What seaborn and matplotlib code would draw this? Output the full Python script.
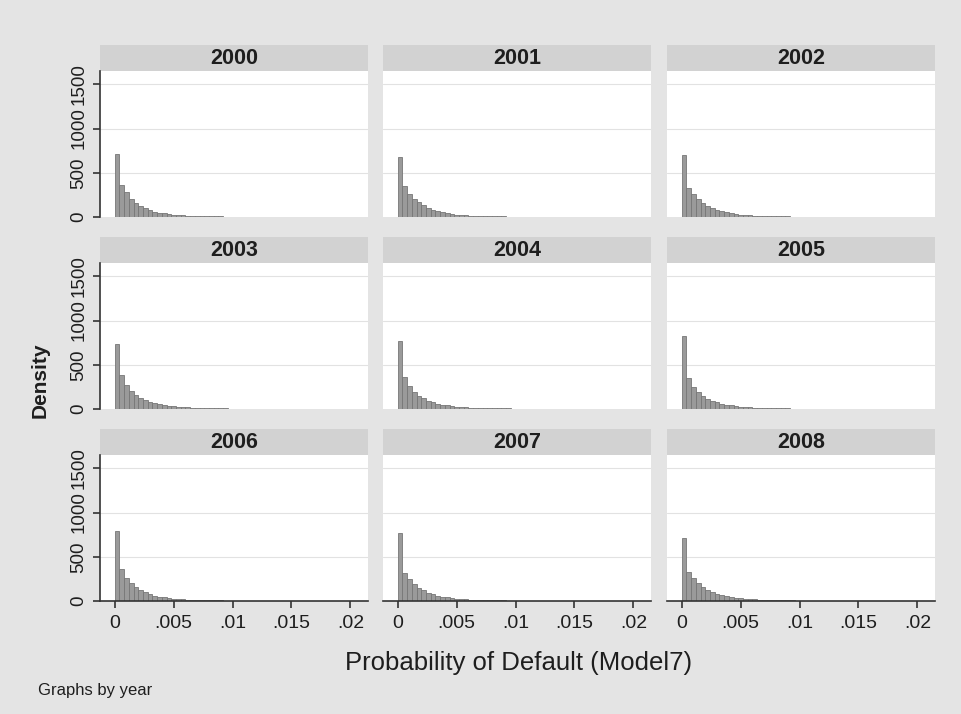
"""Faceted histograms of probability of default by year (Stata-style)."""

import matplotlib.pyplot as plt
import numpy as np
import pandas as pd
import seaborn as sns
from matplotlib.patches import Rectangle

years = ["2000", "2001", "2002", "2003", "2004", "2005", "2006", "2007", "2008"]

# histogram bins: 50 bins of width 0.0004 from 0 to 0.02
bin_width = 0.0004
bin_range = (0.0, 0.02)

density = {
    "2000": [712, 365, 278, 200, 160, 125, 100, 78, 62, 50, 40, 33, 27, 22, 18, 15, 12, 10, 9, 8,
             7, 6, 6, 5, 5, 5, 4, 4, 4, 4, 4, 3, 3, 3, 3, 3, 3, 3, 3, 3, 3, 3, 3, 3, 3, 3, 3, 3, 3, 2],
    "2001": [680, 350, 265, 205, 165, 130, 104, 82, 65, 52, 42, 34, 28, 23, 19, 16, 13, 11, 9, 8,
             7, 6, 6, 5, 5, 5, 4, 4, 4, 4, 4, 3, 3, 3, 3, 3, 3, 3, 3, 3, 3, 3, 3, 3, 3, 3, 3, 3, 3, 2],
    "2002": [705, 330, 255, 200, 162, 128, 102, 80, 64, 51, 41, 34, 28, 23, 19, 16, 13, 11, 9, 8,
             7, 6, 6, 5, 5, 5, 4, 4, 4, 4, 4, 3, 3, 3, 3, 3, 3, 3, 3, 3, 3, 3, 3, 3, 3, 3, 3, 3, 3, 2],
    "2003": [730, 380, 270, 205, 160, 128, 100, 80, 64, 52, 42, 35, 29, 24, 20, 17, 14, 12, 10, 9,
             8, 7, 6, 6, 5, 5, 5, 4, 4, 4, 4, 3, 3, 3, 3, 3, 3, 3, 3, 3, 3, 3, 3, 3, 3, 3, 3, 3, 3, 2],
    "2004": [770, 360, 255, 190, 150, 120, 95, 76, 61, 50, 41, 34, 28, 23, 19, 16, 13, 11, 10, 9,
             8, 7, 6, 6, 5, 5, 5, 4, 4, 4, 4, 3, 3, 3, 3, 3, 3, 3, 3, 3, 3, 3, 3, 3, 3, 3, 3, 3, 3, 2],
    "2005": [830, 350, 250, 188, 148, 118, 94, 75, 60, 49, 40, 33, 27, 22, 18, 15, 13, 11, 9, 8,
             7, 6, 6, 5, 5, 5, 4, 4, 4, 4, 4, 3, 3, 3, 3, 3, 3, 3, 3, 3, 3, 3, 3, 3, 3, 3, 3, 3, 3, 2],
    "2006": [795, 364, 262, 198, 156, 124, 98, 78, 62, 50, 41, 34, 28, 23, 19, 16, 13, 11, 9, 8,
             7, 6, 6, 5, 5, 5, 4, 4, 4, 4, 4, 3, 3, 3, 3, 3, 3, 3, 3, 3, 3, 3, 3, 3, 3, 3, 3, 3, 3, 2],
    "2007": [770, 318, 245, 190, 150, 120, 96, 77, 62, 50, 41, 34, 28, 23, 19, 16, 13, 11, 9, 8,
             7, 6, 6, 5, 5, 5, 4, 4, 4, 4, 4, 3, 3, 3, 3, 3, 3, 3, 3, 3, 3, 3, 3, 3, 3, 3, 3, 3, 3, 2],
    "2008": [715, 330, 255, 198, 158, 126, 100, 80, 64, 52, 42, 35, 29, 24, 20, 17, 14, 12, 10, 9,
             8, 7, 6, 6, 5, 5, 5, 4, 4, 4, 4, 3, 3, 3, 3, 3, 3, 3, 3, 3, 3, 3, 3, 3, 3, 3, 3, 3, 3, 2],
}

y_ticks = [0, 500, 1000, 1500]
y_tick_labels = ["0", "500", "1000", "1500"]
x_ticks = [0, 0.005, 0.01, 0.015, 0.02]
x_tick_labels = ["0", ".005", ".01", ".015", ".02"]

BG = "#e4e4e4"
STRIP = "#d2d2d2"
BAR = "#9a9a9a"
INK = "#1e1e1e"

sns.set_style("white")
plt.rcParams["font.family"] = ["Liberation Sans", "DejaVu Sans"]

W, H = 961, 714
fig = plt.figure(figsize=(W / 100, H / 100), dpi=100, facecolor=BG)

col_left = [100, 383, 667]
row_top = [71, 263, 455]
panel_w, panel_h, strip_h = 268, 146, 26

for i, year in enumerate(years):
    r, c = divmod(i, 3)
    left = col_left[c] / W
    bottom = 1 - (row_top[r] + panel_h) / H
    ax = fig.add_axes([left, bottom, panel_w / W, panel_h / H])
    ax.set_facecolor("white")

    n_bins = len(density[year])
    centers = bin_range[0] + bin_width * (np.arange(n_bins) + 0.5)
    df = pd.DataFrame({"pd": centers, "density": density[year]})
    sns.histplot(
        data=df,
        x="pd",
        weights="density",
        binwidth=bin_width,
        binrange=bin_range,
        color=BAR,
        edgecolor="#777777",
        linewidth=0.6,
        alpha=1,
        ax=ax,
    )

    ax.set_xlim(-0.00125, 0.0215)
    ax.set_ylim(0, 1650)
    ax.set_yticks(y_ticks)
    ax.set_xticks(x_ticks)
    for yv in y_ticks[1:]:
        ax.axhline(yv, color="#e2e2e2", linewidth=0.8, zorder=0)
    ax.set_xlabel("")
    ax.set_ylabel("")

    for side in ["top", "right", "left", "bottom"]:
        ax.spines[side].set_visible(False)

    if c == 0:
        ax.spines["left"].set_visible(True)
        ax.spines["left"].set_color("#333333")
        ax.spines["left"].set_linewidth(1.2)
        ax.set_yticklabels(y_tick_labels, rotation=90, va="center", fontsize=13.5, color=INK)
        ax.tick_params(axis="y", left=True, length=5, width=1.2, color="#333333", pad=4)
    else:
        ax.tick_params(axis="y", left=False, labelleft=False)

    if r == 2:
        ax.spines["bottom"].set_visible(True)
        ax.spines["bottom"].set_color("#333333")
        ax.spines["bottom"].set_linewidth(1.2)
        ax.set_xticklabels(x_tick_labels, fontsize=14, color=INK)
        ax.tick_params(axis="x", bottom=True, length=5, width=1.2, color="#333333", pad=5)
    else:
        ax.tick_params(axis="x", bottom=False, labelbottom=False)

    # facet strip
    sh = strip_h / panel_h
    ax.add_patch(Rectangle((0, 1), 1, sh, transform=ax.transAxes,
                           facecolor=STRIP, edgecolor="none", clip_on=False))
    ax.text(0.5, 1 + sh / 2, year, transform=ax.transAxes, ha="center", va="center",
            fontsize=15.5, fontweight="bold", color=INK)

fig.text(40 / W, 1 - 380 / H, "Density", rotation=90, ha="center", va="center",
         fontsize=15, fontweight="bold", color=INK)
fig.text(519 / W, 1 - 663 / H, "Probability of Default (Model7)", ha="center", va="center",
         fontsize=18.5, color=INK)
fig.text(38 / W, 1 - 690 / H, "Graphs by year", ha="left", va="center",
         fontsize=12, color=INK)

fig.savefig("out.png", dpi=100, facecolor=BG)
